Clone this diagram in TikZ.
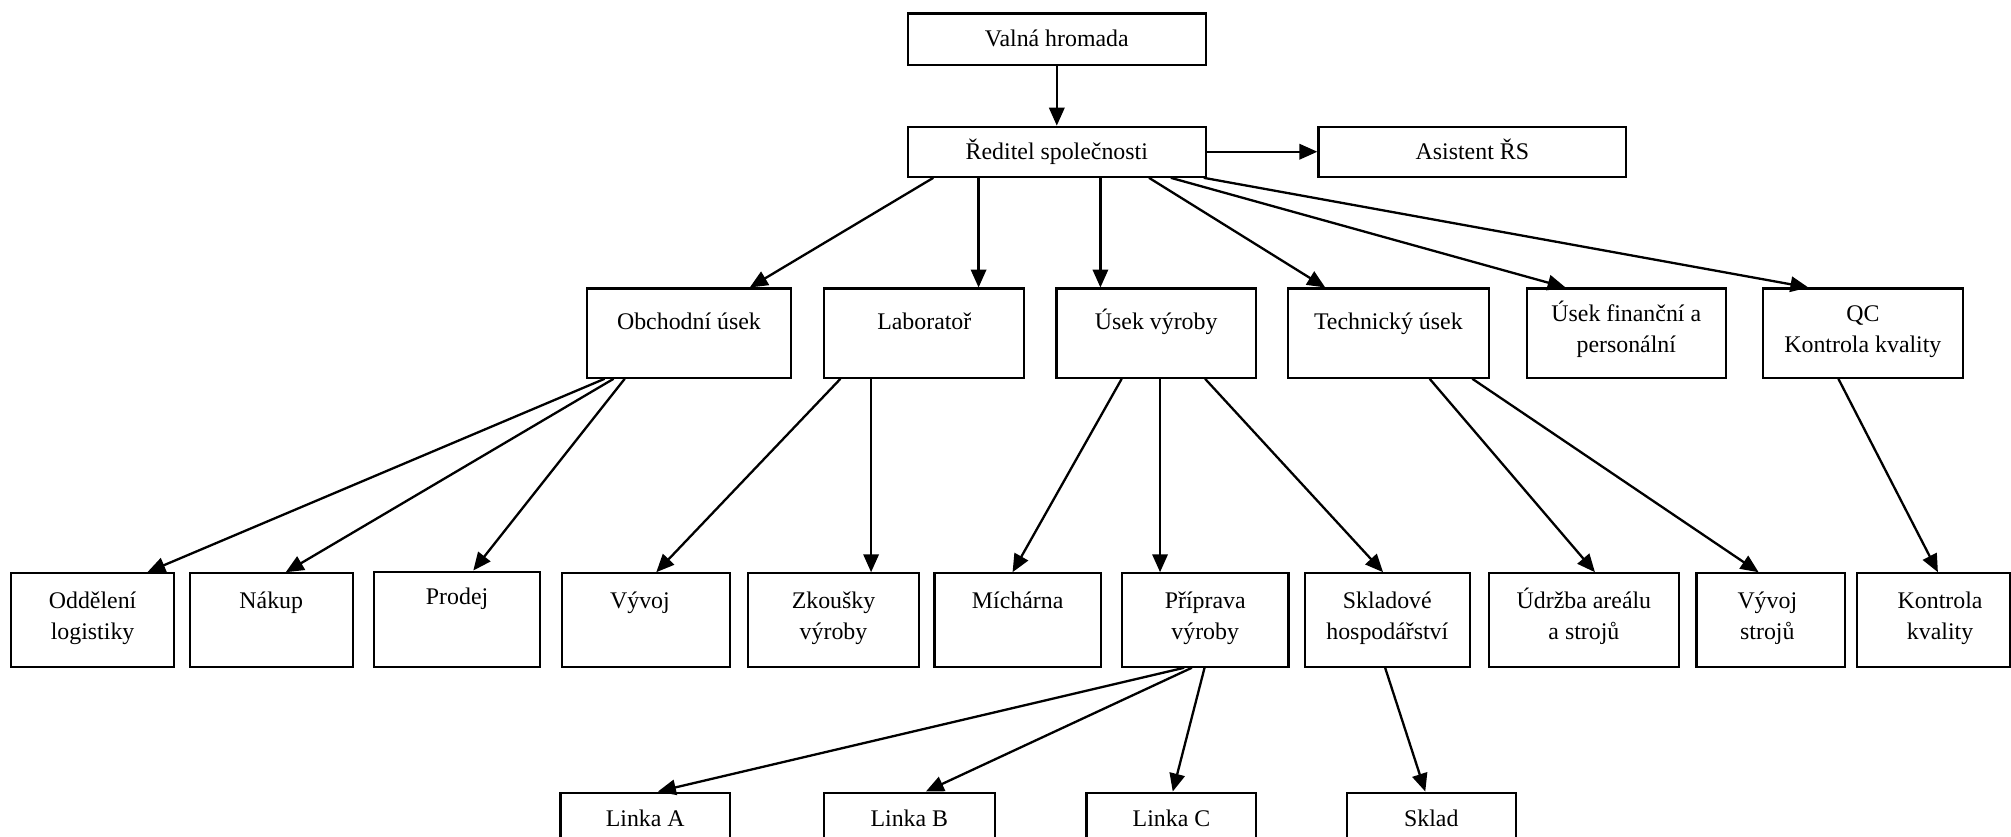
\documentclass[tikz,border=0pt]{standalone}
\usepackage{fontspec}
\setmainfont{Liberation Serif}
\usetikzlibrary{arrows.meta,fit}
\newcommand{\twol}[2]{\begin{tabular}[t]{@{}c@{}}#1\\#2\end{tabular}}
\begin{document}
\begin{tikzpicture}[x=0.5pt,y=-0.5pt,
  box/.style={draw, line width=0.85pt, inner sep=0pt},
  txt/.style={anchor=base, inner sep=0pt, font=\fontsize{9.3}{12}\selectfont},
  arr/.style={line width=0.9pt, -{Triangle[length=7pt,width=6pt]}}]
\useasboundingbox (0,0) rectangle (1568,651.85);
\fill[white] (0,0) rectangle (1568,651.85);
% ---- boxes
\node[box, fit={(708,10.5)(940,50.7)}] (valna) {};
\node[box, fit={(708,98.8)(940,137.8)}] (red) {};
\node[box, fit={(1028,98.8)(1268,137.8)}] (asis) {};
% row 2
\node[box, fit={(458,225)(616.5,294.5)}] (obch) {};
\node[box, fit={(642.7,225)(798.7,294.5)}] (lab) {};
\node[box, fit={(823.7,225)(979.3,294.5)}] (vyr) {};
\node[box, fit={(1004.2,225)(1160.9,294.5)}] (tech) {};
\node[box, fit={(1190.4,225)(1345.6,294.5)}] (fin) {};
\node[box, fit={(1374.7,225)(1530.3,294.5)}] (qc) {};
% row 3
\node[box, fit={(8.7,447)(135.8,519.8)}] (odd) {};
\node[box, fit={(147.9,447)(275,519.8)}] (nak) {};
\node[box, fit={(291.7,445.7)(421.2,519.8)}] (prod) {};
\node[box, fit={(437.9,447)(569.5,519.8)}] (vyvoj) {};
\node[box, fit={(583.4,447)(716.4,519.8)}] (zk) {};
\node[box, fit={(728.6,447)(858.4,519.8)}] (mich) {};
\node[box, fit={(874.8,447)(1004.6,519.8)}] (prip) {};
\node[box, fit={(1017.5,447)(1146,519.8)}] (skl) {};
\node[box, fit={(1161,447)(1308.9,519.8)}] (udr) {};
\node[box, fit={(1322.8,447)(1438.6,519.8)}] (vyvs) {};
\node[box, fit={(1447.7,447)(1567.2,519.8)}] (kon) {};
% row 4
\node[box, fit={(437,618)(569.2,700)}] (la) {};
\node[box, fit={(642.3,618)(775.6,700)}] (lb) {};
\node[box, fit={(847.2,618)(979.5,700)}] (lc) {};
\node[box, fit={(1050.1,618)(1181.9,700)}] (sk) {};
% ---- texts
\node[txt] (valna-t) at (824,36.6) {Valná hromada};
\node[txt] (red-t) at (824,124.5) {Ředitel společnosti};
\node[txt] (asis-t) at (1148,124.5) {Asistent ŘS};
\node[txt] (obch-t) at (537.2,257) {Obchodní úsek};
\node[txt] (lab-t) at (720.7,257) {Laboratoř};
\node[txt] (vyr-t) at (901.5,257) {Úsek výroby};
\node[txt] (tech-t) at (1082.5,257) {Technický úsek};
\node[txt] (fin-t) at (1268,250.5) {\twol{Úsek finanční a}{personální}};
\node[txt] (qc-t) at (1452.5,250.5) {\twol{QC}{Kontrola kvality}};
\node[txt] (odd-t) at (72.2,474.3) {\twol{Oddělení}{logistiky}};
\node[txt] (nak-t) at (211.5,474.3) {Nákup};
\node[txt] (prod-t) at (356.4,471.7) {Prodej};
\node[txt] (vyvoj-t) at (499,474.3) {Vývoj};
\node[txt] (zk-t) at (649.9,474.3) {\twol{Zkoušky}{výroby}};
\node[txt] (mich-t) at (793.5,474.3) {Míchárna};
\node[txt] (prip-t) at (939.7,474.3) {\twol{Příprava}{výroby}};
\node[txt] (skl-t) at (1081.7,474.3) {\twol{Skladové}{hospodářství}};
\node[txt] (udr-t) at (1235,474.3) {\twol{Údržba areálu}{a strojů}};
\node[txt] (vyvs-t) at (1378,474.3) {\twol{Vývoj}{strojů}};
\node[txt] (kon-t) at (1512.7,474.3) {\twol{Kontrola}{kvality}};
\node[txt] (la-t) at (503.1,644.6) {Linka A};
\node[txt] (lb-t) at (709,644.6) {Linka B};
\node[txt] (lc-t) at (913.4,644.6) {Linka C};
\node[txt] (sk-t) at (1116,644.6) {Sklad};
% ---- connectors
\draw[arr] (valna.south) -- (red.north);
\draw[arr] (red.east) -- (asis.west);
\draw[arr] (red.south -| 727.7,0) -- (obch.north -| 584.6,0);
\draw[arr] (red.south -| 763,0) -- (lab.north -| 763,0);
\draw[arr] (red.south -| 858,0) -- (vyr.north -| 858,0);
\draw[arr] (red.south -| 895.9,0) -- (tech.north -| 1033.3,0);
\draw[arr] (red.south -| 912.9,0) -- (fin.north -| 1220.7,0);
\draw[arr] (red.south -| 938.6,0) -- (qc.north -| 1410,0);
\draw[arr] (obch.south -| 471.4,0) -- (odd.north -| 114.9,0);
\draw[arr] (obch.south -| 478.4,0) -- (nak.north -| 222.8,0);
\draw[arr] (obch.south -| 487.1,0) -- (prod.north -| 369,0);
\draw[arr] (lab.south -| 655.3,0) -- (vyvoj.north -| 511.7,0);
\draw[arr] (lab.south -| 679.2,0) -- (zk.north -| 679.2,0);
\draw[arr] (vyr.south -| 874.6,0) -- (mich.north -| 789.5,0);
\draw[arr] (vyr.south -| 904.5,0) -- (prip.north -| 904.5,0);
\draw[arr] (vyr.south -| 939.6,0) -- (skl.north -| 1078.4,0);
\draw[arr] (tech.south -| 1114.7,0) -- (udr.north -| 1243.6,0);
\draw[arr] (tech.south -| 1148,0) -- (vyvs.north -| 1371.2,0);
\draw[arr] (qc.south -| 1433.4,0) -- (kon.north -| 1511,0);
\draw[arr] (prip.south -| 923.3,0) -- (la.north -| 513,0);
\draw[arr] (prip.south -| 929.3,0) -- (lb.north -| 721.9,0);
\draw[arr] (prip.south -| 939.2,0) -- (lc.north -| 914.4,0);
\draw[arr] (skl.south -| 1080,0) -- (sk.north -| 1111.3,0);
\end{tikzpicture}
\end{document}
